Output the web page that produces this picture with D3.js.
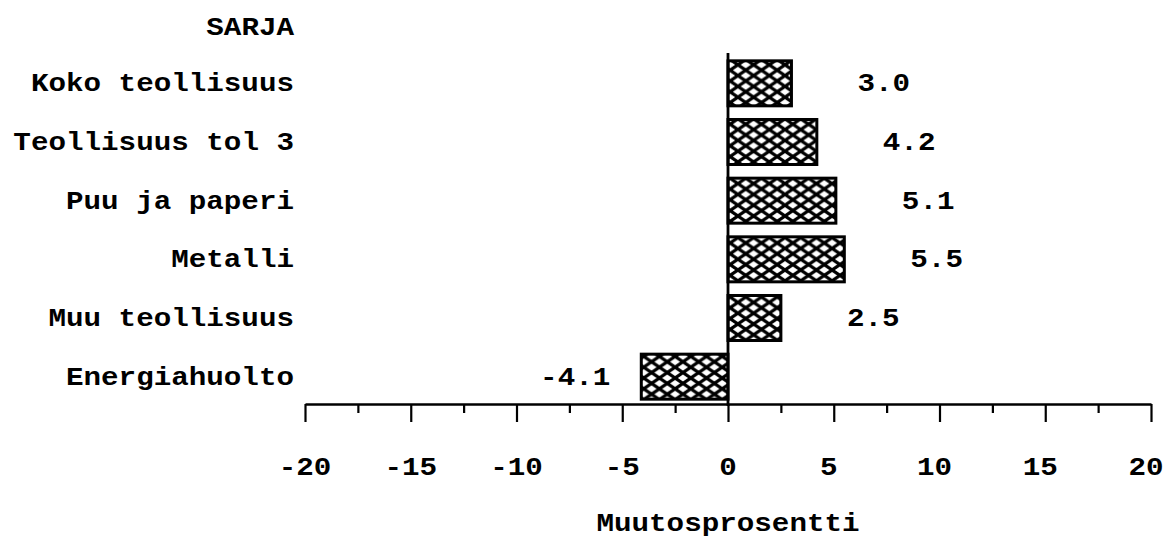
<!DOCTYPE html>
<html>
<head>
<meta charset="utf-8">
<script src="https://cdn.jsdelivr.net/npm/d3@7"></script>
<style>
  body { margin: 0; background: #fff; }
  svg { display: block; }
</style>
</head>
<body>
<div id="chart"></div>
<script>
// series names, percent changes and axis ticks
const categories = ["Koko teollisuus", "Teollisuus tol 3", "Puu ja paperi", "Metalli", "Muu teollisuus", "Energiahuolto"];
const values = [3.0, 4.2, 5.1, 5.5, 2.5, -4.1];
const majorTicks = [-20, -15, -10, -5, 0, 5, 10, 15, 20];
const minorTicks = [-17.5, -12.5, -7.5, -2.5, 2.5, 7.5, 12.5, 17.5];

const width = 1164, height = 537;
const font = "'Liberation Mono', 'DejaVu Sans Mono', monospace";
const stretch = 1.17; // the typewriter font is wider than anything installed

const svg = d3.select("#chart").append("svg")
    .attr("width", width)
    .attr("height", height);

// diamond crosshatch fill
const pat = svg.append("defs").append("pattern")
    .attr("id", "hatch")
    .attr("patternUnits", "userSpaceOnUse")
    .attr("width", 15.7)
    .attr("height", 10.8);
pat.append("rect").attr("width", 15.7).attr("height", 10.8).attr("fill", "#fff");
pat.append("path")
    .attr("d", "M-1,-0.7 L16.7,11.5 M-1,11.5 L16.7,-0.7")
    .attr("stroke", "#000")
    .attr("stroke-width", 3.2);

const x = d3.scaleLinear().domain([-20, 20]).range([305, 1151]);
const y = d3.scaleBand()
    .domain(categories)
    .range([54, 406])
    .paddingInner(0.233)
    .paddingOuter(0.1165);

// text helper: wide monospace via horizontal scale
function label(txt, px, py, anchor) {
    return svg.append("text")
        .attr("transform", `translate(${px},${py}) scale(${stretch},1)`)
        .attr("text-anchor", anchor)
        .style("font-family", font)
        .style("font-weight", "bold")
        .style("font-size", "25px")
        .attr("fill", "#000")
        .text(txt);
}

// bars
svg.append("g")
    .selectAll("rect")
    .data(values)
    .enter()
    .append("rect")
    .attr("x", d => x(Math.min(0, d)))
    .attr("y", (d, i) => y(categories[i]))
    .attr("width", d => Math.abs(x(d) - x(0)))
    .attr("height", y.bandwidth())
    .attr("fill", "url(#hatch)")
    .attr("stroke", "#000")
    .attr("stroke-width", 3);

// zero line
svg.append("line")
    .attr("x1", x(0)).attr("x2", x(0))
    .attr("y1", 53).attr("y2", 406)
    .attr("stroke", "#000")
    .attr("stroke-width", 2.8);

// x axis: major and minor ticks
const axisY = 404;
const major = svg.append("g")
    .attr("transform", `translate(0,${axisY})`)
    .call(d3.axisBottom(x).tickValues(majorTicks).tickSize(18).tickSizeOuter(0).tickFormat(""));
major.select(".domain").attr("stroke-width", 2.6);
major.selectAll(".tick line").attr("stroke-width", 2.2);

const minor = svg.append("g")
    .attr("transform", `translate(0,${axisY})`)
    .call(d3.axisBottom(x).tickValues(minorTicks).tickSize(9).tickSizeOuter(0).tickFormat(""));
minor.select(".domain").remove();
minor.selectAll(".tick line").attr("stroke-width", 2.2);

majorTicks.forEach(t => label(String(t), x(t) - (t > 0 ? 5 : 0), 475, "middle"));

// category labels and heading
label("SARJA", 294, 35, "end");
categories.forEach(c => label(c, 294, y(c) + y.bandwidth() / 2 + 8, "end"));

// value labels
values.forEach((v, i) => {
    const cy = y(categories[i]) + y.bandwidth() / 2 + 8;
    if (v >= 0) label(v.toFixed(1), x(v) + 66, cy, "start");
    else label(v.toFixed(1), x(v) - 31, cy, "end");
});

// axis title
label("Muutosprosentti", x(0), 531, "middle");
</script>
</body>
</html>
